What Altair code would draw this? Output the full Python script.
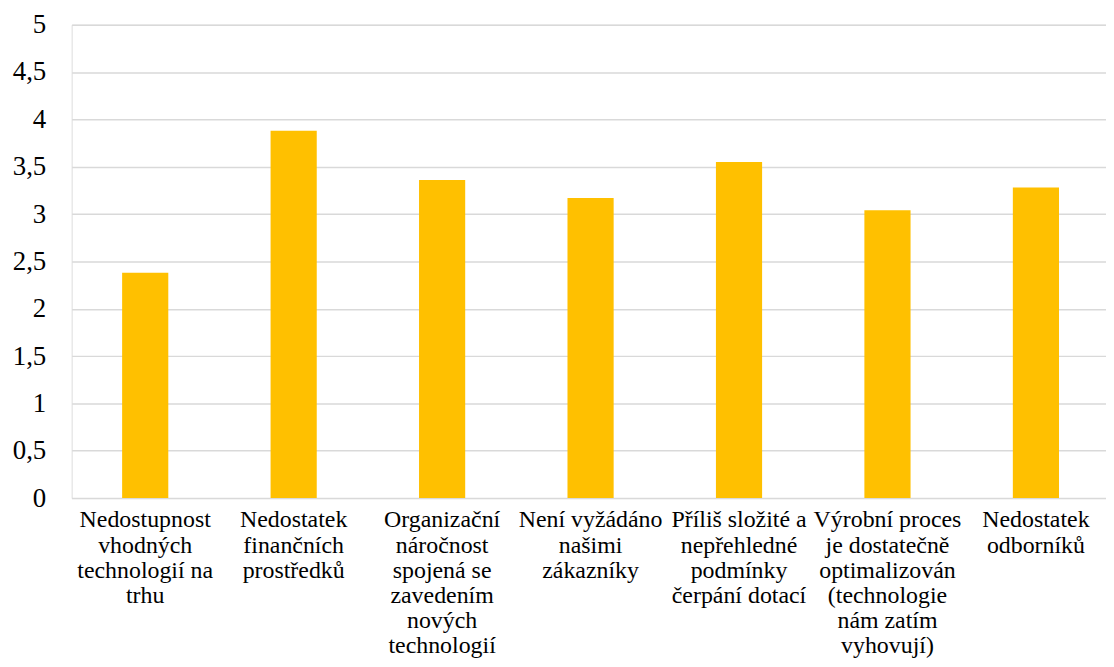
import altair as alt
import pandas as pd

categories = [
    "Nedostupnost\nvhodných\ntechnologií na\ntrhu",
    "Nedostatek\nfinančních\nprostředků",
    "Organizační\nnáročnost\nspojená se\nzavedením\nnových\ntechnologií",
    "Není vyžádáno\nnašimi\nzákazníky",
    "Příliš složité a\nnepřehledné\npodmínky\nčerpání dotací",
    "Výrobní proces\nje dostatečně\noptimalizován\n(technologie\nnám zatím\nvyhovují)",
    "Nedostatek\nodborníků",
]
values = [2.38, 3.88, 3.36, 3.17, 3.55, 3.04, 3.28]
y_ticks = [0, 0.5, 1, 1.5, 2, 2.5, 3, 3.5, 4, 4.5, 5]

df = pd.DataFrame({"category": categories, "value": values})

FONT = "Times New Roman, Liberation Serif, DejaVu Serif, serif"

chart = (
    alt.Chart(df)
    .mark_bar(color="#FFC000")
    .encode(
        x=alt.X(
            "category:N",
            sort=None,
            title=None,
            scale=alt.Scale(paddingInner=0.689, paddingOuter=0.34, range=[0, 1043.5]),
            axis=alt.Axis(
                labelAngle=0,
                labelExpr="split(datum.label, '\\n')",
                labelLineHeight=25.2,
                labelBaseline="top",
                labelPadding=10,
                labelLimit=400,
                labelFont=FONT,
                labelFontSize=24,
                labelColor="#000000",
                ticks=False,
                tickSize=0,
                domain=False,
                grid=False,
            ),
        ),
        y=alt.Y(
            "value:Q",
            title=None,
            scale=alt.Scale(domain=[0, 5], nice=False),
            axis=alt.Axis(
                values=y_ticks,
                labelExpr="replace(toString(datum.value), '.', ',')",
                labelFont=FONT,
                labelFontSize=27,
                labelColor="#000000",
                labelPadding=26,
                ticks=False,
                tickSize=0,
                domain=False,
                grid=True,
                gridColor="#d9d9d9",
                gridWidth=1.5,
            ),
        ),
    )
    .properties(
        width=1040,
        height=476,
        autosize=alt.AutoSizeParams(type="none"),
        padding={"left": 64, "top": 15, "right": 0, "bottom": 161},
    )
    .configure_view(stroke=None)
    .configure(font=FONT)
)

chart.save("out.html", embed_options={"renderer": "svg", "actions": False})
